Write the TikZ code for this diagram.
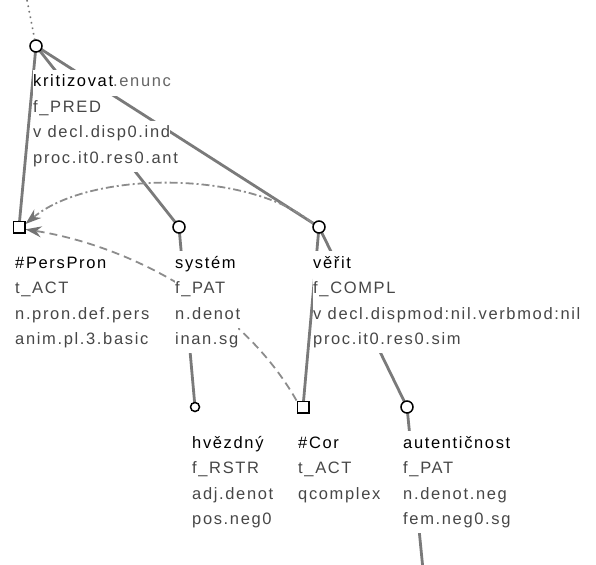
\documentclass[tikz,border=0pt]{standalone}
\usepackage{fontspec}
\setmainfont{Liberation Sans}[LetterSpace=10]
\usetikzlibrary{arrows.meta}
\pgfdeclarelayer{bg}
\pgfsetlayers{bg,main}

\begin{document}
\begin{tikzpicture}[x=1pt,y=-1pt,
  tnode/.style={circle,draw=black,fill=white,line width=1.5pt,minimum size=12pt,inner sep=0pt},
  tsmall/.style={tnode,minimum size=9pt},
  snode/.style={rectangle,draw=black,fill=white,line width=1.5pt,minimum size=11.5pt,inner sep=0pt},
  edge/.style={draw=black!52,line width=2.8pt},
  lbl/.style={anchor=west,fill=white,inner xsep=0pt,inner ysep=4.75pt,
              text height=12pt,text depth=4pt,
              font=\fontsize{16.5}{18}\selectfont,text=black!72},
  head/.style={lbl,text=black},
  coref/.style={draw=black!45,line width=1.8pt,
                -{Stealth[length=16pt,width=11pt,color=black!55]}},
  corefgram/.style={coref,dash pattern=on 8pt off 3pt on 2pt off 3pt},
  coreftext/.style={coref,dash pattern=on 8pt off 5pt},
]
\useasboundingbox (0,0) rectangle (596,564);

% tree nodes
\node[tnode]  (root) at (36,46)  {};
\node[snode]  (pp)   at (19,227) {};
\node[tnode]  (sys)  at (179,227) {};
\node[tnode]  (ver)  at (319,227) {};
\node[tsmall] (hv)   at (195,407) {};
\node[snode]  (cor)  at (303,407) {};
\node[tnode]  (aut)  at (407,407) {};
\coordinate (up)   at (27,0);
\coordinate (down) at (425,590);

% labels, one box per line
\node[head] (r1) at (33,83)  {kritizovat\textcolor{black!60}{.enunc}};
\node[lbl]  (r2) at (33,108.5) {f\_PRED};
\node[lbl]  (r3) at (33,134) {v decl.disp0.ind};
\node[lbl]  (r4) at (33,159.5) {proc.it0.res0.ant};

\node[head] (p1) at (15,264)   {\#PersPron};
\node[lbl]  (p2) at (15,289.5) {t\_ACT};
\node[lbl]  (p3) at (15,315)   {n.pron.def.pers};
\node[lbl]  (p4) at (15,340.5) {anim.pl.3.basic};

\node[head] (s1) at (175,264)   {systém};
\node[lbl]  (s2) at (175,289.5) {f\_PAT};
\node[lbl]  (s3) at (175,315)   {n.denot};
\node[lbl]  (s4) at (175,340.5) {inan.sg};

\node[head] (v1) at (313,264)   {věřit};
\node[lbl]  (v2) at (313,289.5) {f\_COMPL};
\node[lbl]  (v3) at (313,315)   {v decl.dispmod:nil.verbmod:nil};
\node[lbl]  (v4) at (313,340.5) {proc.it0.res0.sim};

\node[head] (h1) at (192,444)   {hvězdný};
\node[lbl]  (h2) at (192,469.5) {f\_RSTR};
\node[lbl]  (h3) at (192,495)   {adj.denot};
\node[lbl]  (h4) at (192,520.5) {pos.neg0};

\node[head] (c1) at (298,444)   {\#Cor};
\node[lbl]  (c2) at (298,469.5) {t\_ACT};
\node[lbl]  (c3) at (298,495)   {qcomplex};

\node[head] (a1) at (403,444)   {autentičnost};
\node[lbl]  (a2) at (403,469.5) {f\_PAT};
\node[lbl]  (a3) at (403,495)   {n.denot.neg};
\node[lbl]  (a4) at (403,520.5) {fem.neg0.sg};

\begin{pgfonlayer}{bg}
  % edges
  \draw[black!55,line width=1.6pt,dash pattern=on 1.6pt off 4pt] (up) -- (root);
  \draw[edge] (root.center) -- (pp.center);
  \draw[edge] (root.center) -- (sys.center);
  \draw[edge] (root.center) -- (ver.center);
  \draw[edge] (sys.center) -- (hv.center);
  \draw[edge] (ver.center) -- (cor.center);
  \draw[edge] (ver.center) -- (aut.center);
  \draw[edge] (aut.center) -- (down);
  % coreference arrows
  \draw[corefgram] (ver.150) .. controls (250,170) and (90,170) .. (pp.25);
  \draw[coreftext] (cor.135) .. controls (238,298) and (120,244) .. (pp.-20);
\end{pgfonlayer}
\end{tikzpicture}
\end{document}
